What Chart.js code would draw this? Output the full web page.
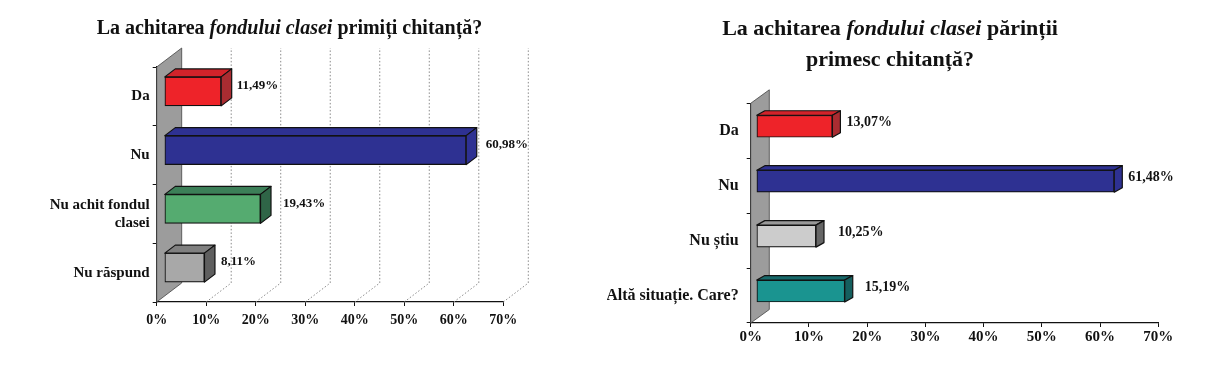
<!DOCTYPE html>
<html>
<head>
<meta charset="utf-8">
<script src="https://cdn.jsdelivr.net/npm/chart.js@4"></script>
<style>
    html, body { margin: 0; padding: 0; background: #fff; }
    body { width: 1214px; height: 365px; position: relative; overflow: hidden; }
    .panel { position: absolute; top: 0; width: 607px; height: 365px; }
    .title { position: absolute; text-align: center; font-family: "Liberation Serif", serif; font-weight: bold; color: #111; white-space: nowrap; }
    #leftTitle { left: 0; width: 579px; top: 16px; font-size: 20px; line-height: 22px; }
    #rightTitle { left: 607px; width: 566px; top: 12px; font-size: 22px; line-height: 31px; }
</style>
</head>
<body>
<div class="panel" style="left:0"><canvas id="leftChart" width="607" height="365"></canvas></div>
<div class="panel" style="left:607px"><canvas id="rightChart" width="607" height="365"></canvas></div>
<div class="title" id="leftTitle">La achitarea <i>fondului clasei</i> primiți chitanță?</div>
<div class="title" id="rightTitle">La achitarea <i>fondului clasei</i> părinții<br>primesc chitanță?</div>
<script>
const leftCategories = ['Da', 'Nu', ['Nu achit fondul', 'clasei'], 'Nu răspund'];
const leftValues = [11.49, 60.98, 19.43, 8.11];
const rightCategories = ['Da', 'Nu', 'Nu știu', 'Altă situație. Care?'];
const rightValues = [13.07, 61.48, 10.25, 15.19];
const axisMax = 70;
const axisStep = 10;

const leftColors = [
    { front: '#ee2329', top: '#d2232a', side: '#a92c31' },
    { front: '#2e3192', top: '#2e3192', side: '#2e3192' },
    { front: '#55ab70', top: '#3c7f58', side: '#2f6547' },
    { front: '#a8a8a8', top: '#808080', side: '#5f5f5f' }
];
const rightColors = [
    { front: '#ee2329', top: '#d2232a', side: '#a92c31' },
    { front: '#2e3192', top: '#2e3192', side: '#2e3192' },
    { front: '#cccccc', top: '#999999', side: '#666666' },
    { front: '#1a9490', top: '#17696a', side: '#155f5e' }
];

function formatValue(value) {
    return value.toFixed(2).replace('.', ',') + '%';
}

// fake 3D look: wall and dotted grid behind the bars, top and side faces on them
const fake3d = {
    id: 'fake3d',
    beforeDatasetsDraw(chart, args, opts) {
        const ctx = chart.ctx;
        const area = chart.chartArea;
        const xScale = chart.scales.x;

        ctx.save();
        ctx.fillStyle = '#9c9c9c';
        ctx.strokeStyle = '#444';
        ctx.lineWidth = 0.8;
        ctx.beginPath();
        ctx.moveTo(area.left, area.top);
        ctx.lineTo(area.left + opts.wallX, area.top - opts.wallY);
        ctx.lineTo(area.left + opts.wallX, area.bottom - opts.wallY);
        ctx.lineTo(area.left, area.bottom);
        ctx.closePath();
        ctx.fill();
        ctx.stroke();

        if (opts.showGrid) {
            ctx.strokeStyle = '#8a8a8a';
            ctx.lineWidth = 1;
            ctx.setLineDash([1.5, 2]);
            xScale.ticks.forEach(tick => {
                if (tick.value === 0) return;
                const x = xScale.getPixelForValue(tick.value);
                ctx.beginPath();
                ctx.moveTo(x, area.bottom);
                ctx.lineTo(x + opts.wallX, area.bottom - opts.wallY);
                ctx.lineTo(x + opts.wallX, area.top - opts.wallY);
                ctx.stroke();
            });
        }
        ctx.restore();

        // the front faces sit a little inside the wall
        ctx.save();
        ctx.translate(opts.shiftX, opts.shiftY);
    },
    afterDatasetsDraw(chart, args, opts) {
        const ctx = chart.ctx;
        ctx.restore();

        const bars = chart.getDatasetMeta(0).data;
        const values = chart.data.datasets[0].data;
        bars.forEach((bar, i) => {
            const x0 = bar.base + opts.shiftX;
            const x1 = bar.x + opts.shiftX;
            const y0 = bar.y - bar.height / 2 + opts.shiftY;
            const y1 = bar.y + bar.height / 2 + opts.shiftY;

            ctx.save();
            ctx.strokeStyle = '#111';
            ctx.lineWidth = 1.2;
            ctx.lineJoin = 'round';

            ctx.fillStyle = opts.colors[i].top;
            ctx.beginPath();
            ctx.moveTo(x0, y0);
            ctx.lineTo(x0 + opts.depthX, y0 - opts.depthY);
            ctx.lineTo(x1 + opts.depthX, y0 - opts.depthY);
            ctx.lineTo(x1, y0);
            ctx.closePath();
            ctx.fill();
            ctx.stroke();

            ctx.fillStyle = opts.colors[i].side;
            ctx.beginPath();
            ctx.moveTo(x1, y0);
            ctx.lineTo(x1 + opts.depthX, y0 - opts.depthY);
            ctx.lineTo(x1 + opts.depthX, y1 - opts.depthY);
            ctx.lineTo(x1, y1);
            ctx.closePath();
            ctx.fill();
            ctx.stroke();

            ctx.fillStyle = '#111';
            ctx.font = 'bold ' + opts.labelSize + 'px "Liberation Serif", serif';
            ctx.textAlign = 'left';
            ctx.textBaseline = 'middle';
            ctx.fillText(formatValue(values[i]), x1 + opts.depthX + opts.labelGaps[i], (y0 + y1) / 2 + opts.labelRise);
            ctx.restore();
        });
    }
};

function makeChart(id, categories, values, colors, layout) {
    const ctx = document.getElementById(id).getContext('2d');
    const serif = '"Liberation Serif", serif';
    return new Chart(ctx, {
        type: 'bar',
        data: {
            labels: categories,
            datasets: [{
                data: values,
                backgroundColor: colors.map(c => c.front),
                borderColor: '#111',
                borderWidth: 1.2,
                borderSkipped: false,
                barThickness: layout.barThickness
            }]
        },
        options: {
            indexAxis: 'y',
            responsive: false,
            animation: false,
            layout: {
                padding: { top: layout.top, right: layout.right, bottom: 365 - layout.bottom - 30, left: 0 }
            },
            scales: {
                x: {
                    min: 0,
                    max: axisMax,
                    afterFit: scale => { scale.height = 30; },
                    border: { color: '#111', width: 1.2 },
                    grid: { drawOnChartArea: false, color: '#111', tickLength: 4 },
                    ticks: {
                        stepSize: axisStep,
                        color: '#111',
                        padding: layout.xPadding,
                        maxRotation: 0,
                        font: { family: serif, weight: 'bold', size: layout.xFontSize },
                        callback: value => value + '%'
                    }
                },
                y: {
                    afterFit: scale => { scale.width = layout.left; },
                    border: { color: '#111', width: 1.2 },
                    grid: { drawOnChartArea: false, color: '#111', tickLength: 4 },
                    ticks: {
                        color: '#111',
                        padding: layout.yPadding,
                        font: { family: serif, weight: 'bold', size: layout.yFontSize, lineHeight: 1.2 }
                    }
                }
            },
            plugins: {
                legend: { display: false },
                title: { display: false },
                tooltip: { enabled: false },
                fake3d: {
                    colors: colors,
                    showGrid: layout.showGrid,
                    wallX: layout.wallX,
                    wallY: layout.wallY,
                    shiftX: layout.shiftX,
                    shiftY: layout.shiftY,
                    depthX: layout.depthX,
                    depthY: layout.depthY,
                    labelGaps: layout.labelGaps,
                    labelRise: layout.labelRise,
                    labelSize: layout.labelSize
                }
            }
        },
        plugins: [fake3d]
    });
}

makeChart('leftChart', leftCategories, leftValues, leftColors, {
    left: 156.7, right: 103.7, top: 67, bottom: 302,
    xFontSize: 14, yFontSize: 15, labelSize: 13, barThickness: 29, xPadding: 6, yPadding: 3,
    wallX: 25, wallY: 19, showGrid: true,
    shiftX: 7.6, shiftY: -5, depthX: 10.5, depthY: 8,
    labelGaps: [5, 9, 12, 6], labelRise: -5.5
});

makeChart('rightChart', rightCategories, rightValues, rightColors, {
    left: 143.7, right: 55.7, top: 103.3, bottom: 323,
    xFontSize: 15, yFontSize: 16, labelSize: 14, barThickness: 22, xPadding: 1, yPadding: 8,
    wallX: 18.6, wallY: 13.5, showGrid: false,
    shiftX: 5.6, shiftY: -4.5, depthX: 8, depthY: 4.5,
    labelGaps: [6, 6, 14, 12], labelRise: -4
});
</script>
</body>
</html>
